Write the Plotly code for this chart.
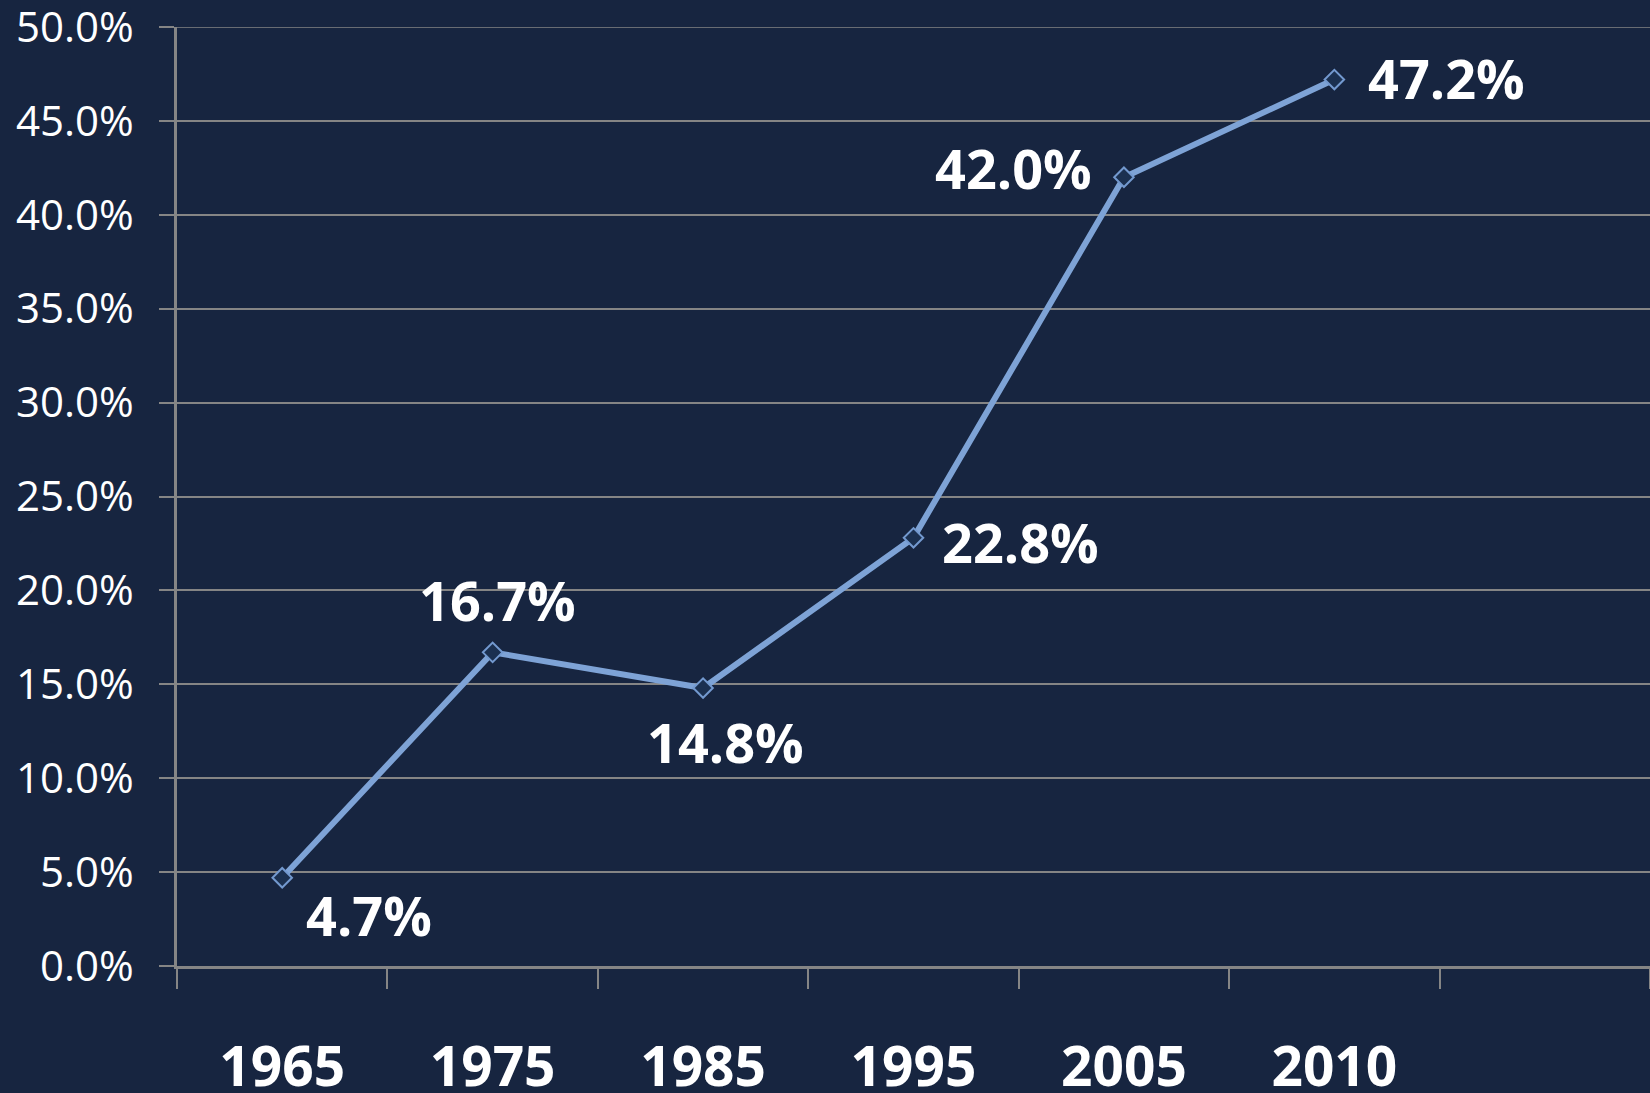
import plotly.graph_objects as go

years = ["1965", "1975", "1985", "1995", "2005", "2010"]
values = [4.7, 16.7, 14.8, 22.8, 42.0, 47.2]
label_text = ["4.7%", "16.7%", "14.8%", "22.8%", "42.0%", "47.2%"]
y_ticks = [0, 5, 10, 15, 20, 25, 30, 35, 40, 45, 50]
y_tick_text = ["%.1f%%" % v for v in y_ticks]

BG = "#172540"
GRID = "#858585"
LINE = "#7ea3d6"
FONT = "Open Sans"

xs = list(range(len(years)))

fig = go.Figure()
fig.add_trace(go.Scatter(
    x=xs, y=values, mode="lines+markers",
    line=dict(color=LINE, width=6),
    marker=dict(symbol="diamond", size=15, color="#1b3050",
                line=dict(color="#7399cf", width=2)),
    hoverinfo="skip", showlegend=False, cliponaxis=False,
))

# top gridline (plotly clips gridlines at the plot edge)
fig.add_shape(type="line", xref="paper", yref="y", x0=0, x1=1,
              y0=y_ticks[-1], y1=y_ticks[-1],
              line=dict(color=GRID, width=1.5), layer="below")

# label placements (pixel offsets from points)
offsets = [
    dict(xshift=22, yshift=-37, xanchor="left"),
    dict(xshift=5, yshift=52, xanchor="center"),
    dict(xshift=22, yshift=-54, xanchor="center"),
    dict(xshift=26, yshift=-4, xanchor="left"),
    dict(xshift=-30, yshift=9, xanchor="right"),
    dict(xshift=32, yshift=2, xanchor="left"),
]
for x, v, t, o in zip(xs, values, label_text, offsets):
    fig.add_annotation(x=x, y=v, xref="x", yref="y", text="<b>%s</b>" % t,
                       showarrow=False, yanchor="middle",
                       font=dict(family=FONT, size=54, color="white"), **o)

fig.update_layout(
    width=1650, height=1093,
    margin=dict(l=177, r=0, t=27, b=127, autoexpand=False),
    paper_bgcolor=BG, plot_bgcolor=BG,
    font=dict(family=FONT, color="white"),
)
fig.update_xaxes(
    range=[-0.5, 6.5], tickmode="array", tickvals=xs,
    ticktext=["<b>%s</b>" % y for y in years],
    tickfont=dict(family=FONT, size=55, color="white"),
    ticks="outside", ticklen=20, tickcolor="rgba(0,0,0,0)",
    ticklabelstandoff=31, ticklabeloverflow="allow", automargin=False,
    showgrid=False, zeroline=False,
    showline=True, linecolor=GRID, linewidth=2.5,
    minor=dict(tickmode="linear", tick0=-0.5, dtick=1, ticks="outside",
               ticklen=20, tickcolor=GRID, tickwidth=2, showgrid=False),
)
fig.update_yaxes(
    range=[0, 50], tickmode="array", tickvals=y_ticks, ticktext=y_tick_text,
    tickfont=dict(family=FONT, size=42, color="white"),
    ticks="outside", ticklen=15, tickcolor=GRID, tickwidth=1.5,
    ticklabelstandoff=17, ticklabeloverflow="allow", automargin=False,
    showgrid=True, gridcolor=GRID, gridwidth=1.5, zeroline=False,
    showline=True, linecolor=GRID, linewidth=2.5,
)

fig.write_html(
    "out.html",
    config={"displayModeBar": False},
    post_script="document.body.style.margin='0px';document.body.style.overflow='hidden';",
)
